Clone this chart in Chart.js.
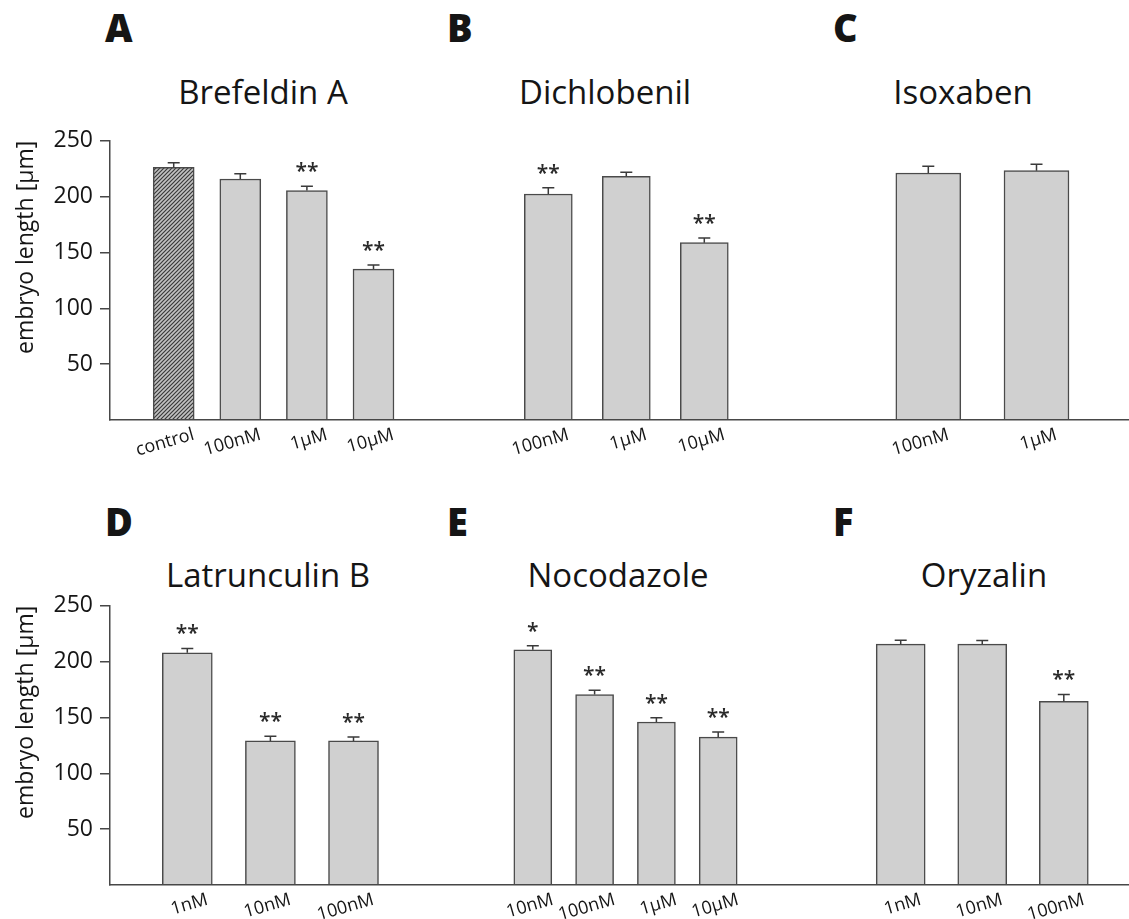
<!DOCTYPE html>
<html>
<head>
<meta charset="utf-8">
<title>Embryo length under cytoskeleton and cell wall inhibitors</title>
<script src="https://cdn.jsdelivr.net/npm/chart.js@4.4.1/dist/chart.umd.min.js"></script>
<style>
  html, body { margin: 0; padding: 0; background: #ffffff; }
  #fig { position: relative; width: 1129px; height: 919px; overflow: hidden;
         font-family: 'Open Sans', 'Noto Sans', sans-serif; color: #151515; }
  .letter { position: absolute; font-size: 38px; font-weight: 800; line-height: 1; }
  .title  { position: absolute; width: 320px; text-align: center; font-size: 33px; line-height: 1; }
  .panel  { position: absolute; }
</style>
</head>
<body>
<div id="fig"></div>
<script>
// ---- data: mean embryo length (µm), standard error, significance marks ----
const brefeldinLabels = ['control', '100nM', '1μM', '10μM'];
const brefeldinMeans  = [226.2, 215.8, 205.4, 135.1];
const brefeldinSEM    = [4.2, 4.7, 3.8, 3.6];
const brefeldinSig    = ['', '', '**', '**'];

const dichlobenilLabels = ['100nM', '1μM', '10μM'];
const dichlobenilMeans  = [201.8, 217.6, 158.3];
const dichlobenilSEM    = [5.6, 3.6, 4.2];
const dichlobenilSig    = ['**', '', '**'];

const isoxabenLabels = ['100nM', '1μM'];
const isoxabenMeans  = [220.5, 222.6];
const isoxabenSEM    = [6.0, 5.7];
const isoxabenSig    = ['', ''];

const latrunculinLabels = ['1nM', '10nM', '100nM'];
const latrunculinMeans  = [208, 129, 129];
const latrunculinSEM    = [3.8, 4.2, 3.6];
const latrunculinSig    = ['**', '**', '**'];

const nocodazoleLabels = ['10nM', '100nM', '1μM', '10μM'];
const nocodazoleMeans  = [210, 170, 145.5, 132];
const nocodazoleSEM    = [3.6, 3.8, 3.8, 4.5];
const nocodazoleSig    = ['*', '**', '**', '**'];

const oryzalinLabels = ['1nM', '10nM', '100nM'];
const oryzalinMeans  = [215, 215, 164];
const oryzalinSEM    = [3.6, 3.3, 6.2];
const oryzalinSig    = ['', '', '**'];

const yTitle = 'embryo length [μm]';
const yMax = 250;
const yStep = 50;

const panels = [
  { key: 'A', title: 'Brefeldin A',   labels: brefeldinLabels,   means: brefeldinMeans,   sem: brefeldinSEM,   sig: brefeldinSig },
  { key: 'B', title: 'Dichlobenil',   labels: dichlobenilLabels, means: dichlobenilMeans, sem: dichlobenilSEM, sig: dichlobenilSig },
  { key: 'C', title: 'Isoxaben',      labels: isoxabenLabels,    means: isoxabenMeans,    sem: isoxabenSEM,    sig: isoxabenSig },
  { key: 'D', title: 'Latrunculin B', labels: latrunculinLabels, means: latrunculinMeans, sem: latrunculinSEM, sig: latrunculinSig },
  { key: 'E', title: 'Nocodazole',    labels: nocodazoleLabels,  means: nocodazoleMeans,  sem: nocodazoleSEM,  sig: nocodazoleSig },
  { key: 'F', title: 'Oryzalin',      labels: oryzalinLabels,    means: oryzalinMeans,    sem: oryzalinSEM,    sig: oryzalinSig }
];

// ---- layout (pixels) ----
const rows = [
  { top: 120, letterTop: 8.4,   titleTop: 74.7 },
  { top: 585, letterTop: 502.4, titleTop: 557.5 }
];
const layout = {
  A: { row: 0, left: 0,   width: 430, axis: 110, first: 173.7, step: 66.6,  bar: 41, letterX: 105, titleX: 263 },
  B: { row: 0, left: 430, width: 355, axis: 0,   first: 548.3, step: 78,    bar: 48, letterX: 447, titleX: 605 },
  C: { row: 0, left: 785, width: 344, axis: 0,   first: 928.3, step: 108.2, bar: 65, letterX: 833, titleX: 963 },
  D: { row: 1, left: 0,   width: 440, axis: 110, first: 187.3, step: 83.1,  bar: 50, letterX: 105, titleX: 268 },
  E: { row: 1, left: 440, width: 360, axis: 0,   first: 532.8, step: 61.8,  bar: 38, letterX: 447, titleX: 618 },
  F: { row: 1, left: 800, width: 329, axis: 0,   first: 900.7, step: 81.55, bar: 49, letterX: 833, titleX: 984 }
};
const canvasHeight = 350;
const padTop = 20;
const xAxisHeight = 50;

const ink = '#151515';
const axisInk = '#474747';
const barFill = '#d0d0d0';
const barEdge = '#4a4a4a';

Chart.defaults.font.family = "'Open Sans', 'Noto Sans', sans-serif";
Chart.defaults.color = ink;

// error bars (upper half only) and significance asterisks above each bar
const errorBarPlugin = {
  id: 'errorBars',
  afterDatasetsDraw(chart) {
    const ctx = chart.ctx;
    const yScale = chart.scales.y;
    chart.data.datasets.forEach((ds, di) => {
      const meta = chart.getDatasetMeta(di);
      meta.data.forEach((bar, i) => {
        const top = yScale.getPixelForValue(ds.data[i].y + ds.sem[i]);
        ctx.save();
        ctx.strokeStyle = '#3a3a3a';
        ctx.lineWidth = 1.5;
        ctx.beginPath();
        ctx.moveTo(bar.x, bar.y);
        ctx.lineTo(bar.x, top);
        ctx.moveTo(bar.x - 6, top);
        ctx.lineTo(bar.x + 6, top);
        ctx.stroke();
        if (ds.sig[i]) {
          ctx.font = "600 21px 'Open Sans', sans-serif";
          ctx.fillStyle = '#2a2a2a';
          ctx.textAlign = 'center';
          ctx.textBaseline = 'alphabetic';
          ctx.fillText(ds.sig[i], bar.x, top - 8);
        }
        ctx.restore();
      });
    });
  }
};

function hatchFor(ctx) {
  const tile = document.createElement('canvas');
  tile.width = 4; tile.height = 4;
  const g = tile.getContext('2d');
  g.fillStyle = '#c2c2c2';
  g.fillRect(0, 0, 4, 4);
  g.strokeStyle = '#3a3a3a';
  g.lineWidth = 1.2;
  g.beginPath();
  g.moveTo(0, 4); g.lineTo(4, 0);
  g.moveTo(-1, 1); g.lineTo(1, -1);
  g.moveTo(3, 5); g.lineTo(5, 3);
  g.stroke();
  return ctx.createPattern(tile, 'repeat');
}

const fig = document.getElementById('fig');

panels.forEach(p => {
  const L = layout[p.key];
  const row = rows[L.row];

  const letter = document.createElement('div');
  letter.className = 'letter';
  letter.textContent = p.key;
  letter.style.left = L.letterX + 'px';
  letter.style.top = row.letterTop + 'px';
  fig.appendChild(letter);

  const title = document.createElement('div');
  title.className = 'title';
  title.textContent = p.title;
  title.style.left = (L.titleX - 160) + 'px';
  title.style.top = row.titleTop + 'px';
  fig.appendChild(title);

  const canvas = document.createElement('canvas');
  canvas.className = 'panel';
  canvas.width = L.width;
  canvas.height = canvasHeight;
  canvas.style.left = L.left + 'px';
  canvas.style.top = row.top + 'px';
  fig.appendChild(canvas);
  const ctx = canvas.getContext('2d');

  const areaLeft = L.left + L.axis;
  const xMin = -(L.first - areaLeft) / L.step;
  const xMax = xMin + (L.width - L.axis) / L.step;
  const hasY = L.axis > 0;
  const hatch = hatchFor(ctx);

  new Chart(ctx, {
    type: 'bar',
    data: {
      datasets: [{
        data: p.means.map((v, i) => ({ x: i, y: v })),
        sem: p.sem,
        sig: p.sig,
        backgroundColor: c => p.labels[c.dataIndex] === 'control' ? hatch : barFill,
        borderColor: barEdge,
        borderWidth: 1.5,
        barThickness: L.bar
      }]
    },
    options: {
      responsive: false,
      animation: false,
      events: [],
      layout: { padding: { top: padTop, right: 0, bottom: 0, left: 0 } },
      plugins: { legend: { display: false }, tooltip: { enabled: false }, title: { display: false } },
      scales: {
        x: {
          type: 'linear',
          min: xMin,
          max: xMax,
          offset: false,
          grid: { display: false, drawTicks: false },
          border: { display: true, color: axisInk, width: 1.5, z: 1 },
          afterBuildTicks: s => { s.ticks = p.labels.map((_, i) => ({ value: i })); },
          afterFit: s => { s.height = xAxisHeight; },
          ticks: {
            autoSkip: false,
            minRotation: 16,
            maxRotation: 16,
            labelOffset: 20,
            padding: 4,
            color: ink,
            font: { size: 18 },
            callback: v => p.labels[v]
          }
        },
        y: {
          display: hasY,
          min: 0,
          max: yMax,
          afterBuildTicks: s => { s.ticks = s.ticks.filter(t => t.value !== 0); },
          afterFit: s => { if (hasY) s.width = L.axis; },
          grid: { display: true, drawOnChartArea: false, drawTicks: true, tickLength: 10, color: axisInk, lineWidth: 1.5 },
          border: { display: true, color: axisInk, width: 1.5, z: 1 },
          ticks: { stepSize: yStep, padding: 7, color: ink, font: { size: 23 } },
          title: {
            display: true,
            text: yTitle,
            align: 'end',
            color: ink,
            font: { size: 23 },
            padding: { top: 13, bottom: 0 }
          }
        }
      }
    },
    plugins: [errorBarPlugin]
  });
});
</script>
</body>
</html>
